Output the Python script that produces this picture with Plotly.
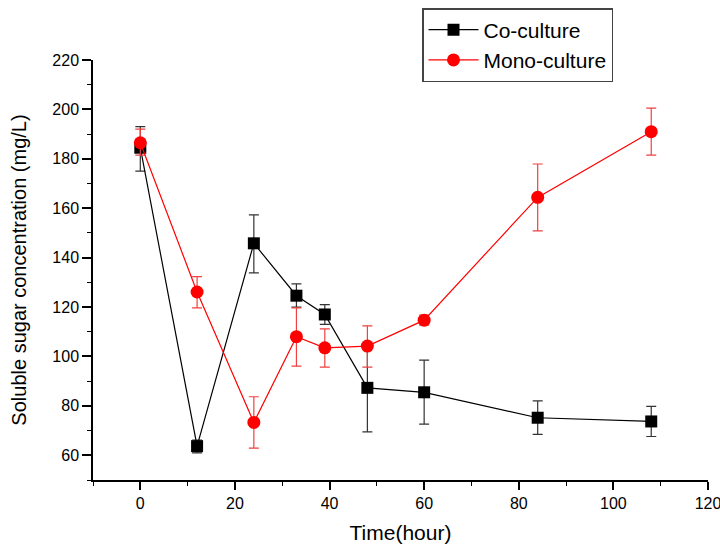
import plotly.graph_objects as go

time = [0, 12, 24, 33, 39, 48, 60, 84, 108]

co_y = [184.5, 63.7, 145.8, 124.6, 117.0, 87.3, 85.5, 75.2, 73.7]
co_up = [8.5, 2.5, 11.5, 4.8, 4.0, 17.7, 13.0, 6.8, 6.1]
co_dn = [9.5, 2.7, 12.0, 4.6, 4.0, 17.8, 12.9, 6.7, 6.1]

mono_y = [186.5, 126.1, 73.3, 108.0, 103.5, 104.2, 114.7, 164.4, 191.0]
mono_up = [5.5, 6.2, 10.4, 11.7, 7.7, 8.2, 2.0, 13.5, 9.5]
mono_dn = [5.0, 6.4, 10.4, 11.9, 7.8, 8.5, 2.0, 13.6, 9.5]

x_ticks = [0, 20, 40, 60, 80, 100, 120]
y_ticks = [60, 80, 100, 120, 140, 160, 180, 200, 220]

fig = go.Figure()
fig.add_trace(go.Scatter(
    x=time, y=co_y, name="Co-culture", mode="lines+markers",
    line=dict(color="black", width=1.2),
    marker=dict(symbol="square", size=12, color="black"),
    error_y=dict(type="data", symmetric=False, array=co_up, arrayminus=co_dn,
                 color="#333333", thickness=1.2, width=5),
))
fig.add_trace(go.Scatter(
    x=time, y=mono_y, name="Mono-culture", mode="lines+markers",
    line=dict(color="red", width=1.2),
    marker=dict(symbol="circle", size=13, color="red"),
    error_y=dict(type="data", symmetric=False, array=mono_up, arrayminus=mono_dn,
                 color="#f04040", thickness=1.2, width=5),
))

L, R, T, B = 93, 12, 60, 64
W, H = 720, 544
fig.update_layout(
    width=W, height=H,
    margin=dict(l=L, r=R, t=T, b=B, autoexpand=False),
    paper_bgcolor="white", plot_bgcolor="white",
    font=dict(family="Liberation Sans, Arial, sans-serif", color="black", size=16),
    showlegend=True,
    legend=dict(x=(422 - L) / (W - L - R), y=1 + (T - 8) / (H - T - B),
                xanchor="left", yanchor="top",
                bordercolor="#444444", borderwidth=1.5, bgcolor="white",
                font=dict(size=21), tracegroupgap=0, itemwidth=50),
    xaxis=dict(
        range=[-10, 120], tickvals=x_ticks, ticktext=[str(v) for v in x_ticks],
        showgrid=False, zeroline=False, showline=True, linecolor="black", linewidth=1.5,
        ticks="outside", ticklen=8, tickwidth=1.5, tickcolor="black",
        minor=dict(dtick=10, tick0=0, ticks="outside", ticklen=4, tickwidth=1.2, tickcolor="black"),
        tickfont=dict(size=16), ticklabeloverflow="allow", automargin=False,
        title=dict(text="Time(hour)", font=dict(size=21), standoff=14),
    ),
    yaxis=dict(
        range=[50, 220], tickvals=y_ticks, ticktext=[str(v) for v in y_ticks],
        showgrid=False, zeroline=False, showline=True, linecolor="black", linewidth=1.5,
        ticks="outside", ticklen=9, tickwidth=1.5, tickcolor="black",
        minor=dict(dtick=10, tick0=0, ticks="outside", ticklen=4, tickwidth=1.2, tickcolor="black"),
        tickfont=dict(size=16), ticklabeloverflow="allow", automargin=False,
        title=dict(text="Soluble sugar concentration (mg/L)", font=dict(size=20), standoff=20),
    ),
)

fig.write_html("out.html")
